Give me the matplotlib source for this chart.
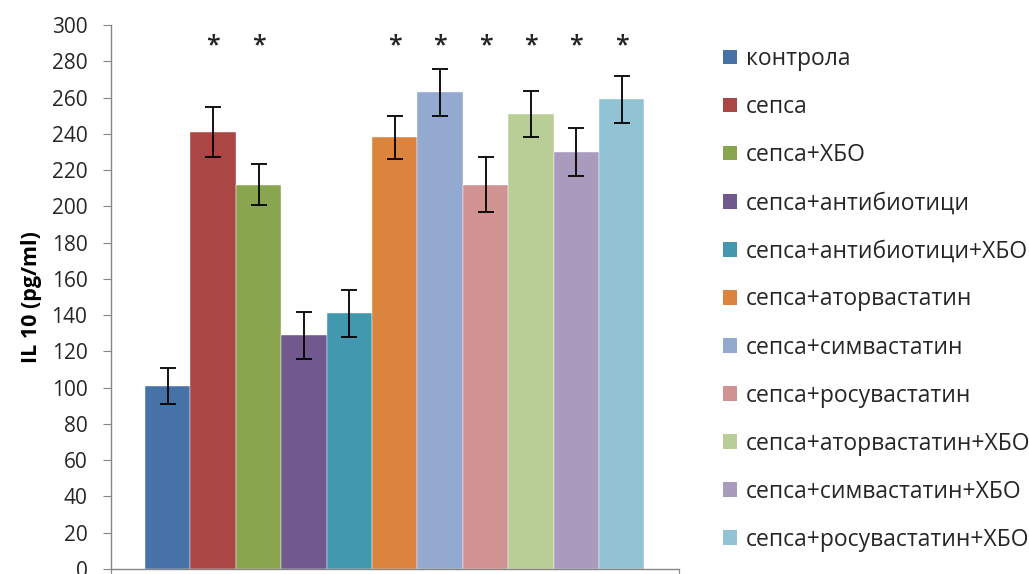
import numpy as np
import matplotlib.pyplot as plt
from matplotlib.patches import Patch

plt.rcParams['font.family'] = ['Open Sans', 'Noto Sans', 'DejaVu Sans']

groups = ['контрола', 'сепса', 'сепса+ХБО', 'сепса+антибиотици',
          'сепса+антибиотици+ХБО', 'сепса+аторвастатин', 'сепса+симвастатин',
          'сепса+росувастатин', 'сепса+аторвастатин+ХБО',
          'сепса+симвастатин+ХБО', 'сепса+росувастатин+ХБО']
means = [101, 241, 212, 129, 141, 238, 263, 212, 251, 230, 259]
errs = [10, 14, 11.5, 13, 13, 12, 13, 15, 12.5, 13, 13]
signif = [False, True, True, False, False, True, True, True, True, True, True]
colors = ['#4672A8', '#AA4643', '#89A54E', '#71588F', '#4198AF', '#DB843D',
          '#93A9CF', '#D19392', '#B9CD96', '#A99BBD', '#92C3D4']
yticks = list(range(0, 301, 20))

fig = plt.figure(figsize=(10.29, 5.74), dpi=100)
ax = fig.add_axes([111/1029, 5/574, 568/1029, 544/574])

x = np.arange(len(means))
ax.bar(x, means, width=1.0, color=colors, edgecolor='white', linewidth=0.3)
ax.errorbar(x, means, yerr=errs, fmt='none', ecolor='black',
            elinewidth=1.3, capsize=5.5, capthick=1.3)

# asterisks over the significant groups
for xi, s in zip(x, signif):
    if s:
        ax.text(xi, 288.5, '*', ha='center', va='center', fontsize=18,
                fontweight='semibold', color='#222222')

ax.set_xlim(-1.25, 11.26)
ax.set_ylim(0, 300)
ax.set_yticks(yticks)
ax.set_xticks([-1.25, 11.26])
ax.set_xticklabels([])
ax.tick_params(axis='x', direction='out', length=5, color='#868686')
ax.tick_params(axis='y', direction='out', length=6, color='#868686',
               labelsize=15, pad=11, labelcolor='#262626')
for side in ['top', 'right']:
    ax.spines[side].set_visible(False)
for side in ['left', 'bottom']:
    ax.spines[side].set_color('#868686')
    ax.spines[side].set_linewidth(1.0)
ax.set_ylabel('IL 10 (pg/ml)', fontsize=15.5, fontweight='bold', labelpad=7)

handles = [Patch(facecolor=c, edgecolor='none') for c in colors]
fig.legend(handles, groups, loc='upper left', bbox_to_anchor=(714/1029, 1 - 38/574),
           frameon=False, fontsize=16.5, handlelength=0.6, handleheight=0.6,
           handletextpad=0.4, labelspacing=1.05, borderaxespad=0,
           labelcolor='#262626')

fig.savefig('out.png', dpi=100)
